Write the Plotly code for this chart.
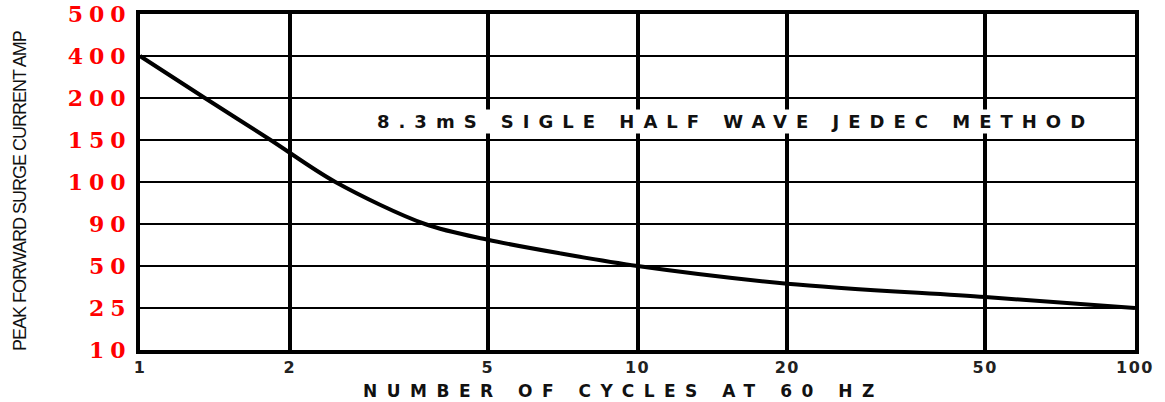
import numpy as np
import plotly.graph_objects as go

# Y axis: irregular label scale, labels equally spaced from bottom to top
y_labels = [10, 25, 50, 90, 100, 150, 200, 400, 500]
x_ticks = [1, 2, 5, 10, 20, 50, 100]

# Curve
cycles = [1, 1.35, 1.83, 2.47, 3.74, 5, 7, 10, 20, 50, 100]
amps = [400, 200, 150, 100, 90, 75, 62, 50, 39.5, 31.5, 25]

y_pos = list(range(len(y_labels)))
curve_pos = np.interp(amps, y_labels, y_pos)


def spaced(t, ls):
    return f'<span style="letter-spacing:{ls}px">{t}</span>'


fig = go.Figure()
fig.add_trace(go.Scatter(
    x=cycles, y=curve_pos, mode="lines",
    line=dict(color="black", width=4, shape="spline", smoothing=0.9),
    hoverinfo="skip", showlegend=False,
))

fig.update_layout(
    width=1165, height=402,
    margin=dict(l=140, r=30, t=14, b=52),
    paper_bgcolor="white", plot_bgcolor="white",
    showlegend=False,
    xaxis=dict(
        type="log", range=[0, 2], automargin=False,
        tickvals=x_ticks,
        ticktext=[spaced(str(v), 1.5) for v in x_ticks],
        tickfont=dict(family="DejaVu Sans", size=16, color="#222", weight="bold"),
        ticks="", ticklabelstandoff=0,
        showgrid=True, gridcolor="black", gridwidth=4,
        showline=True, mirror=True, linecolor="black", linewidth=4,
        zeroline=False,
    ),
    yaxis=dict(
        range=[0, len(y_labels) - 1], automargin=False,
        tickvals=y_pos,
        ticktext=[spaced(str(v), 6) for v in y_labels],
        tickfont=dict(family="DejaVu Serif", size=22, color="#ff0000", weight="bold"),
        ticks="", ticklabelstandoff=0,
        showgrid=True, gridcolor="black", gridwidth=2,
        showline=True, mirror=True, linecolor="black", linewidth=4,
        zeroline=False,
    ),
    annotations=[
        dict(
            text=spaced("8.3mS SIGLE HALF WAVE JEDEC METHOD", 9),
            xref="paper", yref="paper", x=0.598, y=0.6815,
            xanchor="center", yanchor="middle", showarrow=False,
            bgcolor="white",
            font=dict(family="DejaVu Sans", size=18, color="#111", weight="bold"),
        ),
        dict(
            text=spaced("NUMBER OF CYCLES AT 60 HZ", 9.5),
            xref="paper", yref="paper", x=0.486, y=-0.122,
            xanchor="center", yanchor="middle", showarrow=False,
            font=dict(family="DejaVu Sans", size=17, color="#111", weight="bold"),
        ),
        dict(
            text=spaced("PEAK FORWARD SURGE CURRENT AMP", -1),
            xref="paper", yref="paper", x=-0.1206, y=0.473,
            xanchor="center", yanchor="middle", showarrow=False,
            textangle=-90,
            font=dict(family="Liberation Sans", size=18, color="#111"),
        ),
    ],
)

fig.write_html("out.html", config={"displayModeBar": False},
               post_script="document.body.style.margin='0';")
